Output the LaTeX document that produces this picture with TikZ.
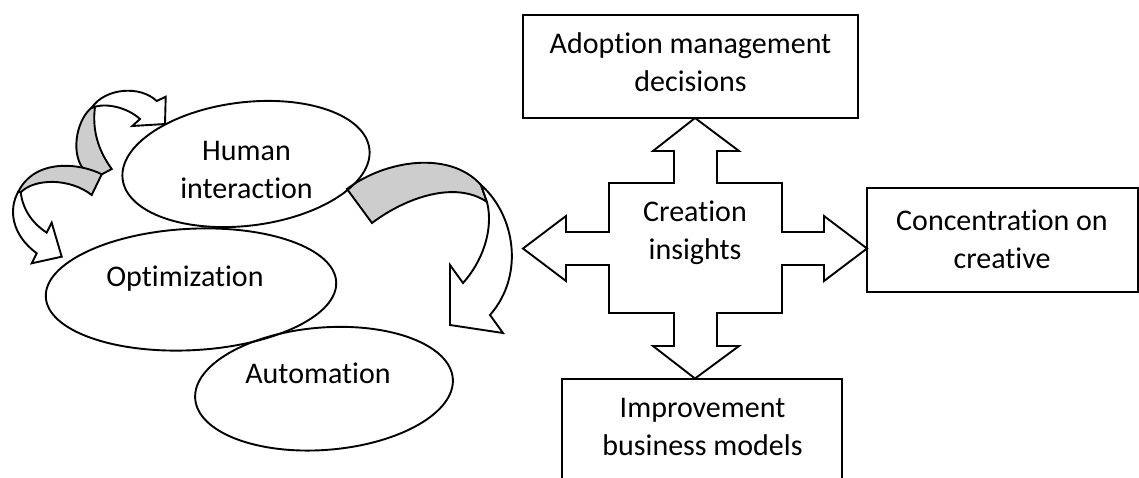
\documentclass[tikz,border=0pt]{standalone}
\usepackage{fontspec}
\setmainfont{Carlito}[Ligatures=NoCommon]
\usetikzlibrary{shapes.geometric}
\definecolor{bandgray}{RGB}{205,205,205}
\tikzset{
  ln/.style={line width=0.95pt, line join=miter},
  oval/.style={ln, draw, ellipse, inner sep=0pt},
  box/.style={ln, draw, rectangle, inner sep=0pt},
  lbl/.style={align=center, anchor=base, inner sep=0pt, font=\fontsize{15}{19}\selectfont},
  band/.style={ln, draw, fill=bandgray},
  blockw/.style={ln, draw, fill=white},
}
\begin{document}
\begin{tikzpicture}[x=0.5pt,y=-0.5pt]
\useasboundingbox (0,0) rectangle (1139,477);
% ---- small curved arrow (top-left) ----
\draw[band] (91.7,107.7) .. controls (78,118) and (70,150) .. (82.7,168.3) -- (95,178) -- (111.7,169)
   .. controls (98,150) and (92,130) .. (95,106.7) -- cycle;
\draw[blockw] (91.7,107.7) .. controls (105,88) and (140,85) .. (156.7,101) -- (165.7,96.7) -- (165,124)
   -- (132.3,126) -- (140,119) .. controls (128,108) and (108,103) .. (95,106.7) -- cycle;
% ---- small curved arrow (left) ----
\draw[band] (101.7,174.3) .. controls (80,163) and (35,158) .. (18.3,191.7) -- (20.7,192.3)
   .. controls (35,178) and (70,178) .. (91.7,195) -- cycle;
\draw[blockw] (18.3,191.7) .. controls (8,210) and (12,235) .. (36.7,253.3) -- (31.7,263.3) -- (61.7,256.7)
   -- (51.7,222.7) -- (46.7,232.7) .. controls (35,225) and (23,212) .. (20.7,192.3) -- cycle;
% ---- big curved arrow ----
\draw[band] (347,189) .. controls (385,160) and (450,150) .. (481,185) -- (487,202)
   .. controls (455,180) and (405,198) .. (372,223) -- cycle;
\draw[blockw] (481,185) .. controls (515,215) and (525,275) .. (490,315) -- (503,333) -- (450,325)
   -- (450,265) -- (463,283) .. controls (482,262) and (494,230) .. (487,202) -- cycle;
% ---- ellipses ----
\node[oval, minimum width=124.3pt, minimum height=61.7pt, rotate=7] (hum) at (246,164) {};
\node[oval, minimum width=145.4pt, minimum height=60.7pt, rotate=3] (opt) at (191,289.5) {};
\node[oval, minimum width=129.2pt, minimum height=61.2pt, rotate=4.5] (aut) at (324,388.7) {};
\node[lbl] (humt) at (246.5,198.3) {Human\\interaction};
\node[lbl] (optt) at (185,286) {Optimization};
\node[lbl] (autt) at (318,383.3) {Automation};
% ---- boxes ----
\node[box, minimum width=167.5pt, minimum height=51.5pt] (adopt) at (690.5,66.5) {};
\node[box, minimum width=135.5pt, minimum height=52pt] (conc) at (1002.5,240) {};
\node[box, minimum width=140pt, minimum height=60pt] (impr) at (702,439) {};
\node[lbl] (adoptt) at (690.5,91) {Adoption management\\decisions};
\node[lbl] (conct) at (1002,268.3) {Concentration on\\creative};
\node[lbl] (imprt) at (702.5,455) {Improvement\\business models};
% ---- four-way block arrow ----
\draw[blockw] (695,118) -- (739,151) -- (717,151) -- (717,183) -- (782,183) -- (782,232) -- (824,232)
  -- (824,216) -- (867,248.5) -- (824,281) -- (824,265) -- (782,265) -- (782,313) -- (717,313)
  -- (717,346) -- (739,346) -- (695,378.5) -- (653,346) -- (674,346) -- (674,313) -- (609,313)
  -- (609,265) -- (566,265) -- (566,281) -- (523,248.5) -- (566,216) -- (566,232) -- (609,232)
  -- (609,183) -- (674,183) -- (674,151) -- (653,151) -- cycle;
\node[lbl] (crea) at (695,259.7) {Creation\\insights};
\end{tikzpicture}
\end{document}
